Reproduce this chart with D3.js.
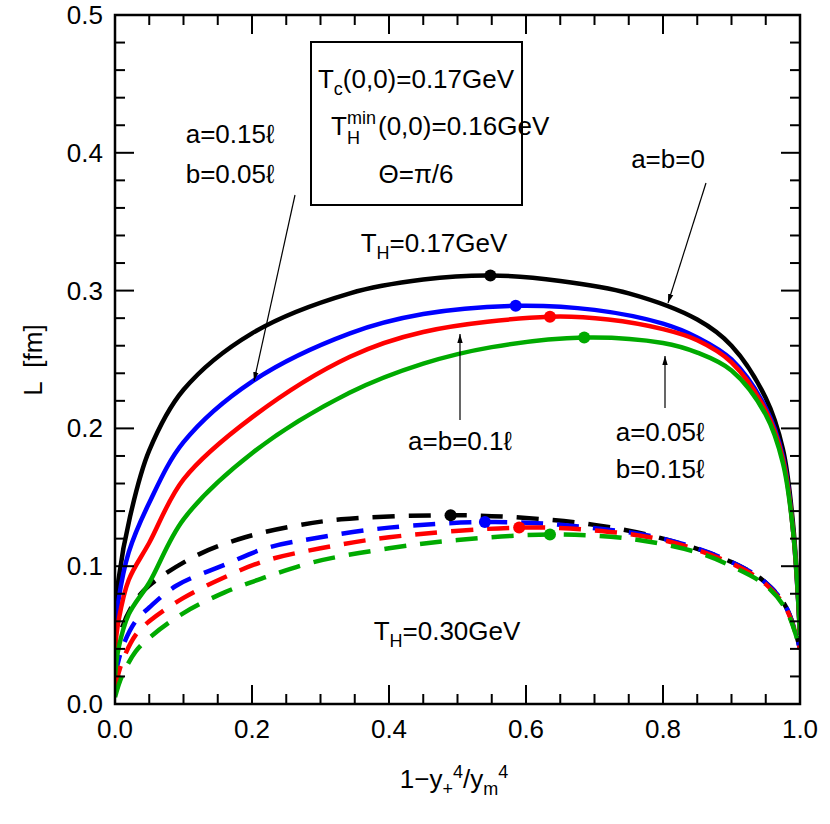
<!DOCTYPE html><html><head><script src="https://cdn.jsdelivr.net/npm/d3@7"></script>
<style>body{margin:0;background:#fff}text{font-family:"Liberation Sans",Arial,sans-serif}</style></head><body>
<svg id="c" width="830" height="824"></svg>
<script>
const xTicks=[0,0.2,0.4,0.6,0.8,1.0], yTicks=[0,0.1,0.2,0.3,0.4,0.5];
const colors=["#000","#0000ff","#ff0000","#00aa00"];
const solid=[
[[0,0.06],[0.005,0.09],[0.022,0.136],[0.05,0.184],[0.1,0.228],[0.2,0.269],[0.343,0.298],[0.45,0.308],[0.548,0.311],[0.65,0.307],[0.75,0.298],[0.85,0.279],[0.9,0.26],[0.95,0.222],[0.975,0.185],[0.99,0.13],[1.0,0.05]],
[[0,0.05],[0.005,0.075],[0.02,0.11],[0.05,0.146],[0.1,0.19],[0.2,0.234],[0.343,0.269],[0.45,0.283],[0.585,0.289],[0.7,0.286],[0.8,0.276],[0.85,0.266],[0.9,0.25],[0.95,0.215],[0.975,0.18],[0.99,0.125],[1,0.05]],
[[0,0.04],[0.005,0.06],[0.02,0.09],[0.05,0.117],[0.1,0.163],[0.2,0.208],[0.343,0.252],[0.45,0.27],[0.635,0.281],[0.72,0.279],[0.8,0.272],[0.85,0.264],[0.9,0.248],[0.95,0.213],[0.975,0.178],[0.99,0.125],[1,0.05]],
[[0,0.02],[0.005,0.04],[0.02,0.065],[0.05,0.088],[0.1,0.134],[0.2,0.182],[0.343,0.226],[0.45,0.247],[0.55,0.259],[0.685,0.266],[0.8,0.262],[0.85,0.255],[0.9,0.242],[0.95,0.21],[0.975,0.175],[0.99,0.125],[1,0.05]]];
const dashed=[
[[0,0.03],[0.01,0.055],[0.03,0.075],[0.05,0.086],[0.12,0.108],[0.19,0.121],[0.26,0.129],[0.33,0.134],[0.49,0.137],[0.6,0.135],[0.7,0.13],[0.8,0.12],[0.9,0.103],[0.95,0.088],[0.98,0.07],[1,0.04]],
[[0,0.02],[0.01,0.04],[0.03,0.06],[0.05,0.07],[0.09,0.086],[0.16,0.101],[0.22,0.113],[0.3,0.121],[0.4,0.128],[0.54,0.132],[0.65,0.13],[0.8,0.12],[0.9,0.103],[0.95,0.088],[0.98,0.07],[1,0.04]],
[[0,0.012],[0.01,0.03],[0.03,0.05],[0.05,0.06],[0.1,0.077],[0.16,0.092],[0.22,0.104],[0.3,0.113],[0.4,0.121],[0.59,0.128],[0.7,0.126],[0.8,0.119],[0.9,0.102],[0.95,0.087],[0.98,0.069],[1,0.04]],
[[0,0.005],[0.01,0.02],[0.03,0.038],[0.05,0.048],[0.1,0.066],[0.16,0.081],[0.22,0.092],[0.29,0.103],[0.4,0.113],[0.5,0.119],[0.635,0.123],[0.75,0.12],[0.85,0.11],[0.9,0.1],[0.95,0.086],[0.98,0.068],[1,0.04]]];
const solidPeaks=[[0.548,0.311],[0.585,0.289],[0.635,0.281],[0.685,0.266]];
const dashedPeaks=[[0.49,0.137],[0.54,0.132],[0.59,0.128],[0.635,0.123]];

const svg=d3.select("#c");
const L=115,R=800,T=15,B=704;
const x=d3.scaleLinear([0,1],[L,R]), y=d3.scaleLinear([0,0.5],[B,T]);
svg.append("defs").html('<clipPath id="cp"><rect x="'+L+'" y="'+T+'" width="'+(R-L)+'" height="'+(B-T)+'"/></clipPath><marker id="ar" viewBox="0 0 10 10" refX="10" refY="5" markerWidth="9" markerHeight="22" markerUnits="userSpaceOnUse" orient="auto"><path d="M0,2L10,5L0,8z"/></marker>');
const line=d3.line().x(d=>x(d[0])).y(d=>y(d[1])).curve(d3.curveCatmullRom.alpha(0.5));
const g=svg.append("g").attr("clip-path","url(#cp)");
dashed.forEach((d,i)=>g.append("path").attr("d",line(d)).attr("fill","none").attr("stroke",colors[i]).attr("stroke-width",4.5).attr("stroke-dasharray","22,14"));
solid.forEach((d,i)=>g.append("path").attr("d",line(d)).attr("fill","none").attr("stroke",colors[i]).attr("stroke-width",4.5));
[solidPeaks,dashedPeaks].forEach(p=>p.forEach((d,i)=>svg.append("circle").attr("cx",x(d[0])).attr("cy",y(d[1])).attr("r",6).attr("fill",colors[i])));
svg.append("rect").attr("x",L).attr("y",T).attr("width",R-L).attr("height",B-T).attr("fill","none").attr("stroke","#000").attr("stroke-width",2.5);
const tk=svg.append("g").attr("stroke","#000").attr("stroke-width",2);
d3.range(0,1.0001,0.05).forEach(v=>{const m=Math.abs(v*5-Math.round(v*5))<1e-6,l=m?19:10;
 tk.append("line").attr("x1",x(v)).attr("x2",x(v)).attr("y1",B).attr("y2",B-l);
 tk.append("line").attr("x1",x(v)).attr("x2",x(v)).attr("y1",T).attr("y2",T+l);});
d3.range(0,0.5001,0.02).forEach(v=>{const m=Math.abs(v*10-Math.round(v*10))<1e-6,l=m?19:10;
 tk.append("line").attr("y1",y(v)).attr("y2",y(v)).attr("x1",L).attr("x2",L+l);
 tk.append("line").attr("y1",y(v)).attr("y2",y(v)).attr("x1",R).attr("x2",R-l);});
xTicks.forEach(v=>svg.append("text").attr("x",x(v)).attr("y",B+34).attr("text-anchor","middle").attr("font-size",26).text(v.toFixed(1)));
yTicks.forEach(v=>svg.append("text").attr("x",L-12).attr("y",y(v)+9).attr("text-anchor","end").attr("font-size",26).text(v.toFixed(1)));
svg.append("text").attr("x",454).attr("y",788).attr("text-anchor","middle").attr("font-size",26).html('1−y<tspan dy="7" font-size="18">+</tspan><tspan dy="-17" font-size="18">4</tspan><tspan dy="10">/y</tspan><tspan dy="7" font-size="18">m</tspan><tspan dy="-17" font-size="18">4</tspan>');
svg.append("text").attr("transform","translate(42,360) rotate(-90)").attr("text-anchor","middle").attr("font-size",26).attr("xml:space","preserve").text("L  [fm]");
svg.append("rect").attr("x",311).attr("y",42).attr("width",211).attr("height",163).attr("fill","#fff").attr("stroke","#000").attr("stroke-width",2);
const tx=(xx,yy,h,a)=>svg.append("text").attr("x",xx).attr("y",yy).attr("text-anchor",a||"middle").attr("font-size",26).html(h);
tx(416,88,'T<tspan dy="7" font-size="18">c</tspan><tspan dy="-7">(0,0)=0.17GeV</tspan>');
tx(331,135,'T','start');
svg.append("text").attr("x",347).attr("y",124).attr("font-size",18).text("min");
svg.append("text").attr("x",347).attr("y",144).attr("font-size",18).text("H");
tx(378,135,'(0,0)=0.16GeV','start');
tx(416,183,'Θ=π/6');
tx(434,252,'T<tspan dy="7" font-size="18">H</tspan><tspan dy="-7">=0.17GeV</tspan>');
tx(447,640,'T<tspan dy="7" font-size="18">H</tspan><tspan dy="-7">=0.30GeV</tspan>');
tx(230,143,'a=0.15ℓ');tx(230,183,'b=0.05ℓ');
tx(668,168,'a=b=0');
tx(460,450,'a=b=0.1ℓ');
tx(660,441,'a=0.05ℓ');tx(660,478,'b=0.15ℓ');
const arr=(x1,y1,x2,y2)=>svg.append("line").attr("x1",x1).attr("y1",y1).attr("x2",x2).attr("y2",y2).attr("stroke","#000").attr("stroke-width",1.2).attr("marker-end","url(#ar)");
arr(295,195,254,381);arr(706,183,668,303);arr(460,420,460,334);arr(665,408,665,356);
</script></body></html>
